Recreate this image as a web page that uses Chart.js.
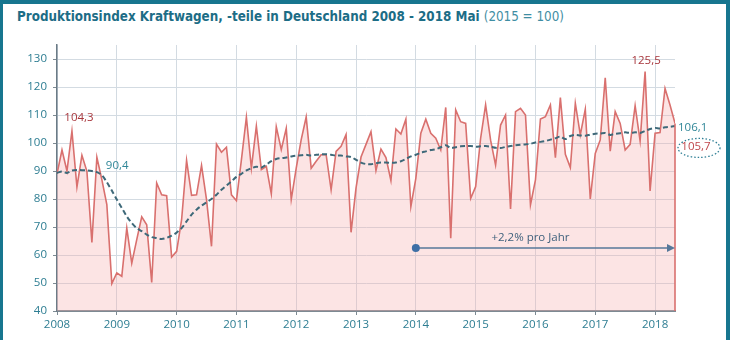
<!DOCTYPE html>
<html>
<head>
<meta charset="utf-8">
<script src="https://cdn.jsdelivr.net/npm/chart.js@4.4.1/dist/chart.umd.min.js"></script>
<style>
  html, body { margin: 0; padding: 0; background: #fff; }
  #frame {
    position: relative; width: 730px; height: 340px; box-sizing: border-box;
    border-top: 4px solid #17768f; border-left: 3px solid #17768f; border-right: 4px solid #17768f;
    overflow: hidden;
  }
  #title {
    position: absolute; left: 14px; top: 5px; white-space: nowrap;
    font-family: 'DejaVu Sans Condensed', 'DejaVu Sans', sans-serif; font-stretch: condensed;
    font-size: 13.3px; color: #1c6d86; font-weight: bold;
  }
  #title span { font-weight: normal; color: #3f8ea3; }
  #chart { position: absolute; left: -3px; top: -4px; }
</style>
</head>
<body>
<div id="frame">
  <div id="title">Produktionsindex Kraftwagen, -teile in Deutschland 2008 - 2018 Mai <span>(2015 = 100)</span></div>
  <canvas id="chart" width="730" height="340"></canvas>
</div>
<script>
const startYear = 2008;
const yearTicks = [2008, 2009, 2010, 2011, 2012, 2013, 2014, 2015, 2016, 2017, 2018];

// monthly index, Jan 2008 .. May 2018
const production = [
  89, 97.5, 90, 104.3, 84.3, 95.6, 89.9, 64.5, 94.9, 86.9, 78, 49.8,
  53.6, 52.4, 69.6, 57.1, 65.5, 73.6, 70.8, 50.2, 85.7, 81.5, 81.2, 59.3,
  61.3, 72.6, 93.8, 81.3, 81.5, 92, 79.8, 63.1, 99.6, 96.7, 98.5, 81.5,
  79.4, 94, 109.2, 91, 106, 90.5, 91.7, 81.9, 105.8, 97.6, 105.2, 79.8,
  91, 101.2, 109.3, 91, 93.5, 95.8, 95.8, 83.3, 97, 98.8, 103, 68.1,
  84, 95, 99.5, 104, 90.2, 97.8, 94.8, 86.6, 105, 103.2, 108.5, 77.3,
  87.4, 103.5, 108.5, 103.5, 101.7, 97.5, 112.7, 66, 111.8, 107.6, 107, 80.2,
  84.4, 101.7, 113.6, 101, 92.1, 106.4, 110, 76.4, 111.2, 112.4, 110, 77.9,
  86.8, 108.6, 109.4, 113.6, 94.8, 116.2, 96, 91.2, 114.2, 102.9, 112.1, 80,
  96.3, 101.1, 123.3, 97.1, 111.2, 107, 97.5, 99.5, 113.3, 100.7, 125.5, 82.9,
  103.5, 103.7, 119.5, 113.6, 107
];

// gleitender Trend (gestrichelt)
const trend = [
  89.3, 89.8, 89.3, 90.2, 90.4, 90.3, 90.2, 90, 89.6, 88.5, 86, 83,
  79.8, 76.8, 73.8, 71.4, 69.6, 68.5, 67.3, 66.4, 66.1, 65.7, 66.1, 66.9,
  68, 69.6, 72, 74.4, 76.2, 77.6, 78.8, 80, 81.5, 83.3, 84.8, 86.3,
  87.9, 89, 90.2, 91, 91.5, 91.2, 92.3, 93.5, 94.3, 94.6, 94.8, 95.2,
  95.5, 95.6, 95.8, 95.5, 95.8, 96, 96, 95.8, 95.5, 95.5, 95.2, 95,
  94, 93, 92.5, 92.4, 92.8, 93, 93, 92.9, 93, 93.5, 94.3, 95.2,
  95.8, 96.5, 97, 97.5, 97.8, 98.5, 99.2, 98.2, 98.5, 98.8, 98.9, 98.9,
  98.7, 98.8, 98.9, 98.7, 98.3, 98.2, 98.6, 98.9, 99.2, 99.4, 99.5, 99.7,
  100.2, 100.4, 100.7, 101.2, 101.7, 102.3, 101.4, 102.5, 102.9, 102.7, 102.6, 103,
  103.3, 103.4, 103.6, 102.9, 103.3, 103.5, 103.8, 103.6, 103.8, 103.6, 104.3, 105,
  105.4, 105.2, 105.6, 105.8, 106.1
];

const growthStart = 72; // Jan 2014
const growthLevel = 62.5;
const growthText = '+2,2% pro Jahr';

const toPoints = (arr) => arr.map((v, i) => ({ x: i, y: v }));
const lastIdx = production.length - 1;

const annotations = {
  id: 'annotations',
  afterDatasetsDraw(chart) {
    const { ctx, scales: { x, y }, chartArea } = chart;
    ctx.save();
    // right edge of the filled area
    ctx.strokeStyle = '#d9706e';
    ctx.lineWidth = 1.6;
    ctx.beginPath();
    ctx.moveTo(x.getPixelForValue(lastIdx), y.getPixelForValue(production[lastIdx]));
    ctx.lineTo(x.getPixelForValue(lastIdx), chartArea.bottom);
    ctx.stroke();

    // growth arrow
    const x0 = x.getPixelForValue(growthStart);
    const x1 = x.getPixelForValue(lastIdx);
    const yy = y.getPixelForValue(growthLevel);
    ctx.strokeStyle = '#56789a';
    ctx.lineWidth = 1.4;
    ctx.beginPath();
    ctx.moveTo(x0, yy);
    ctx.lineTo(x1 - 5, yy);
    ctx.stroke();
    ctx.fillStyle = '#56789a';
    ctx.beginPath();
    ctx.moveTo(x1, yy);
    ctx.lineTo(x1 - 8, yy - 4);
    ctx.lineTo(x1 - 8, yy + 4);
    ctx.closePath();
    ctx.fill();
    ctx.fillStyle = '#3e6fa6';
    ctx.beginPath();
    ctx.arc(x0, yy, 4, 0, Math.PI * 2);
    ctx.fill();

    ctx.font = '11.5px "Open Sans", sans-serif';
    ctx.textBaseline = 'middle';
    ctx.textAlign = 'center';
    ctx.fillStyle = '#3e607c';
    ctx.fillText(growthText, x.getPixelForValue(95), y.getPixelForValue(66.2));

    // value labels
    const peak1 = 3;
    const peak2 = 118;
    ctx.fillStyle = '#a8373d';
    ctx.fillText('104,3', x.getPixelForValue(peak1) + 7, y.getPixelForValue(production[peak1]) - 13);
    ctx.fillText('125,5', x.getPixelForValue(peak2) + 1, y.getPixelForValue(production[peak2]) - 11);
    ctx.fillStyle = '#2f8697';
    ctx.textAlign = 'left';
    ctx.fillText('90,4', x.getPixelForValue(10) - 1, y.getPixelForValue(90.4) - 4);
    ctx.fillText('106,1', x1 + 3, y.getPixelForValue(trend[lastIdx]) + 2);

    ctx.textAlign = 'center';
    const cx = x1 + 24;
    const cy = y.getPixelForValue(trend[lastIdx]) + 21;
    ctx.fillStyle = '#c0474c';
    ctx.fillText('105,7', cx - 3, cy);
    ctx.strokeStyle = '#2f7f95';
    ctx.lineWidth = 1.3;
    ctx.setLineDash([1.5, 2]);
    ctx.beginPath();
    ctx.ellipse(cx, cy + 1, 21, 9.5, 0, 0, Math.PI * 2);
    ctx.stroke();
    ctx.restore();
  }
};

new Chart(document.getElementById('chart'), {
  type: 'line',
  data: {
    datasets: [
      {
        data: toPoints(trend),
        borderColor: '#3e6979',
        borderWidth: 2,
        borderDash: [5, 3],
        pointRadius: 0,
        fill: false,
        tension: 0.3,
      },
      {
        data: toPoints(production),
        borderColor: '#d9706e',
        backgroundColor: 'rgba(246, 170, 172, 0.32)',
        borderWidth: 1.6,
        pointRadius: 0,
        fill: 'start',
        tension: 0,
      },
    ],
  },
  options: {
    responsive: false,
    animation: false,
    layout: { padding: { left: 0, top: 45, right: 55, bottom: 0 } },
    plugins: { legend: { display: false }, tooltip: { enabled: false } },
    scales: {
      x: {
        type: 'linear',
        min: 0,
        max: lastIdx,
        afterBuildTicks: (scale) => {
          scale.ticks = yearTicks.map((yr) => ({ value: (yr - startYear) * 12 }));
        },
        afterFit: (scale) => { scale.height = 29; },
        ticks: {
          padding: 3,
          color: '#2d7d92',
          font: { family: 'Open Sans', size: 11.5 },
          callback: (v) => String(startYear + v / 12),
          maxRotation: 0,
        },
        grid: { color: '#d3dbe2', lineWidth: 1, tickLength: 4, tickColor: '#7d8a93' },
        border: { color: '#7d8a93', width: 2 },
      },
      y: {
        min: 40,
        max: 135,
        afterBuildTicks: (scale) => {
          scale.ticks = scale.ticks.filter((t) => t.value <= 130);
        },
        afterFit: (scale) => { scale.width = 57; },
        ticks: {
          stepSize: 10,
          padding: 6,
          color: '#2d7d92',
          font: { family: 'Open Sans', size: 11.5 },
        },
        grid: { color: '#d3dbe2', lineWidth: 1, tickLength: 4, tickColor: '#7d8a93' },
        border: { color: '#6b7b86', width: 1.5 },
      },
    },
  },
  plugins: [annotations],
});
</script>
</body>
</html>
